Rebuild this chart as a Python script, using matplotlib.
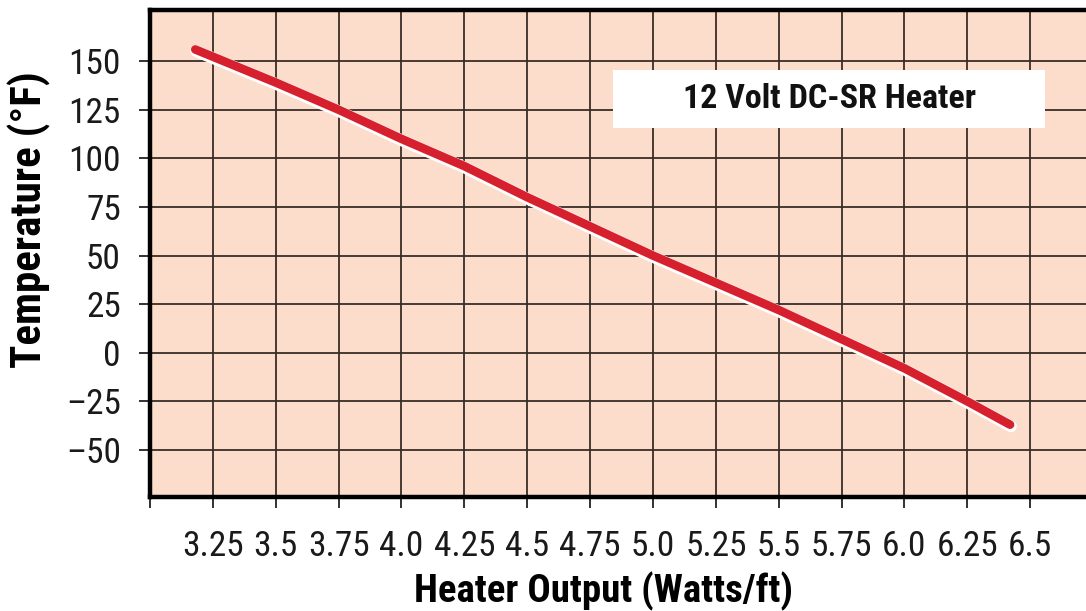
import matplotlib
matplotlib.use("Agg")
import matplotlib.pyplot as plt
import matplotlib.patheffects as pe
from matplotlib import font_manager
from matplotlib.font_manager import FontProperties
from matplotlib.patches import Rectangle

# heater output (W/ft) vs temperature (F)
watts = [3.18, 3.5, 3.75, 4.0, 4.25, 4.5, 4.75, 5.0, 5.25, 5.5, 5.75, 6.0, 6.25, 6.42]
temps = [156, 139, 125, 110, 96, 80, 65, 50, 36, 22, 7, -8, -25, -37]

x_ticks = [3.0, 3.25, 3.5, 3.75, 4.0, 4.25, 4.5, 4.75, 5.0, 5.25, 5.5, 5.75, 6.0, 6.25, 6.5]
x_labels = ["", "3.25", "3.5", "3.75", "4.0", "4.25", "4.5", "4.75", "5.0",
            "5.25", "5.5", "5.75", "6.0", "6.25", "6.5"]
y_ticks = [-50, -25, 0, 25, 50, 75, 100, 125, 150]
y_labels = ["\u201350", "\u201325", "0", "25", "50", "75", "100", "125", "150"]

title = "12 Volt DC-SR Heater"


# look for a condensed sans face, fall back to Liberation Sans
def find_font(bold):
    cands = []
    for f in font_manager.fontManager.ttflist:
        narrow = ("Condensed" in f.name or "Narrow" in f.name
                  or str(f.stretch) in ("condensed", "semi-condensed", "extra-condensed")
                  or (isinstance(f.stretch, int) and f.stretch < 500)
                  or "Condensed" in f.fname or "Narrow" in f.fname)
        if not narrow or f.style != "normal":
            continue
        w = f.weight if isinstance(f.weight, int) else (700 if "bold" in str(f.weight) else 400)
        if bold and w < 600:
            continue
        if not bold and w != 400:
            continue
        cands.append(f)
    order = ["Liberation Sans Narrow", "Roboto Condensed", "Open Sans Condensed",
             "DejaVu Sans", "Noto Sans"]
    for name in order:
        for f in cands:
            if f.name.startswith(name):
                return FontProperties(fname=f.fname), True
    if cands:
        return FontProperties(fname=cands[0].fname), True
    return FontProperties(family="Liberation Sans",
                          weight="bold" if bold else "normal"), False


reg_fp, reg_narrow = find_font(False)
bold_fp, bold_narrow = find_font(True)

tick_size = 25.5 if reg_narrow else 20
bold_size = 28 if bold_narrow else 23

fig = plt.figure(figsize=(10.86, 6.11), dpi=100)
ax = fig.add_axes([150 / 1086, 114 / 611, 936 / 1086, 487 / 611])
ax.set_facecolor("#fcdccb")

ax.set_xlim(3.0, 6.722)
ax.set_ylim(-74.2, 176.3)

ax.set_xticks(x_ticks)
ax.set_xticklabels(x_labels)
ax.set_yticks(y_ticks)
ax.set_yticklabels(y_labels)
ax.tick_params(axis="both", length=8, width=1.3, color="#222222")
ax.tick_params(axis="x", pad=16)
ax.tick_params(axis="y", pad=13)
for lab in ax.get_xticklabels() + ax.get_yticklabels():
    lab.set_fontproperties(reg_fp)
    lab.set_fontsize(tick_size)
    lab.set_color("#1a1a1a")

ax.grid(True, color="#3a2c26", linewidth=1.3)
ax.set_axisbelow(True)

for side in ["left", "top", "bottom"]:
    ax.spines[side].set_linewidth(3.2)
    ax.spines[side].set_color("black")
ax.spines["right"].set_visible(False)

# red curve with a white halo that sits a little below it
ax.plot(watts, temps, color="#d7202e", linewidth=6.2, solid_capstyle="round",
        path_effects=[pe.Stroke(linewidth=8.5, foreground="white", offset=(0.6, -1.2)),
                      pe.Normal()],
        zorder=3)

ax.add_patch(Rectangle((0.4947, 0.7577), 0.4615, 0.1191, transform=ax.transAxes,
                       facecolor="white", edgecolor="none", zorder=4))
ax.text(0.4947 + 0.4615 / 2, 0.7577 + 0.1191 / 2, title, transform=ax.transAxes,
        ha="center", va="center", fontproperties=bold_fp, fontsize=bold_size - 3.5,
        color="#111111", zorder=5)

fig.text(29 / 1086, 1 - 220 / 611, "Temperature (\u00b0F)", rotation=90,
         ha="center", va="center", fontproperties=bold_fp, fontsize=bold_size + 3)
fig.text(603 / 1086, 1 - 591 / 611, "Heater Output (Watts/ft)",
         ha="center", va="center", fontproperties=bold_fp, fontsize=bold_size)

fig.savefig("out.png", dpi=100)
